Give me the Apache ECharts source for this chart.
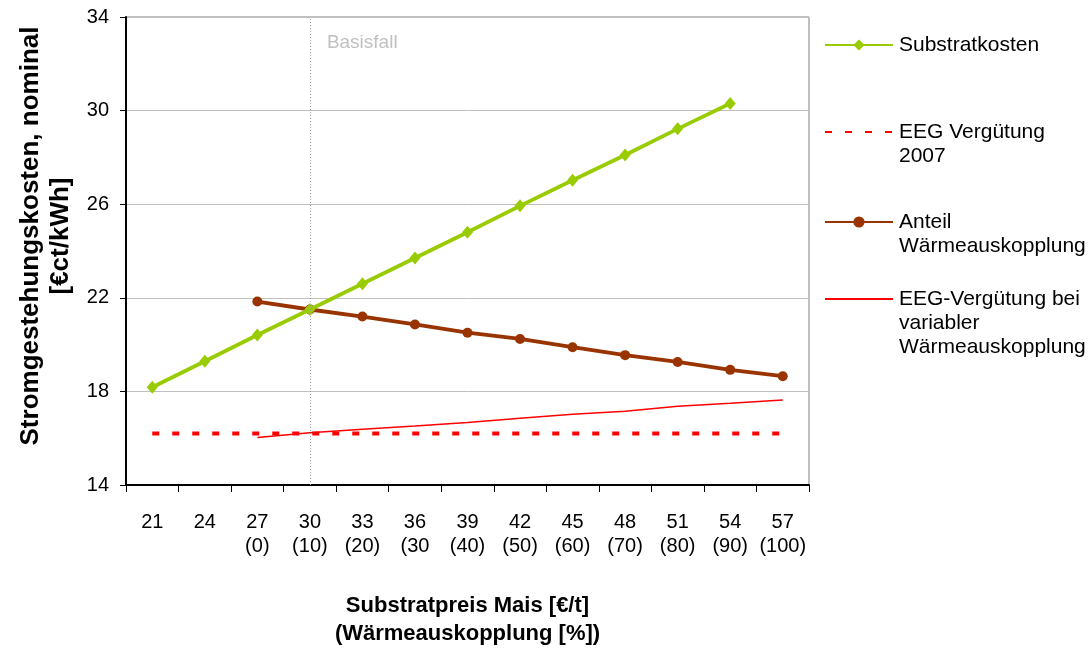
<!DOCTYPE html>
<html>
<head>
<meta charset="utf-8">
<script src="https://cdn.jsdelivr.net/npm/echarts@6/dist/echarts.min.js"></script>
<style>
  html, body { margin: 0; padding: 0; background: #fff; }
  #chart { width: 1088px; height: 653px; }
</style>
</head>
<body>
<div id="chart"></div>
<script>
// Substrate price of maize [€/t] and matching share of heat utilisation [%]
const substratePrices = ['21', '24', '27', '30', '33', '36', '39', '42', '45', '48', '51', '54', '57'];
const heatShareLabels = ['', '', '(0)', '(10)', '(20)', '(30', '(40)', '(50)', '(60)', '(70)', '(80)', '(90)', '(100)'];

// Electricity generation costs [€ct/kWh]
const substrateCosts   = [18.18, 19.29, 20.41, 21.50, 22.60, 23.70, 24.80, 25.93, 27.02, 28.10, 29.22, 30.30, null];
const eegTariff2007    = [16.2, 16.2, 16.2, 16.2, 16.2, 16.2, 16.2, 16.2, 16.2, 16.2, 16.2, 16.2, 16.2];
const heatShareCosts   = [null, null, 21.84, 21.50, 21.20, 20.86, 20.51, 20.24, 19.89, 19.55, 19.26, 18.92, 18.65];
const eegTariffVarHeat = [null, null, 16.03, 16.23, 16.38, 16.52, 16.67, 16.85, 17.02, 17.15, 17.37, 17.49, 17.63];

const yTicks = { min: 14, max: 34, step: 4 };
const baseCase = '30';

const seriesNames = [
  'Substratkosten',
  'EEG Vergütung 2007',
  'Anteil Wärmeauskopplung',
  'EEG-Vergütung bei variabler Wärmeauskopplung'
];
// legend text, wrapped; leading blank lines keep the icon level with the first line
const legendText = {
  'Substratkosten': 'Substratkosten',
  'EEG Vergütung 2007': '\nEEG Vergütung\n2007',
  'Anteil Wärmeauskopplung': '\nAnteil\nWärmeauskopplung',
  'EEG-Vergütung bei variabler Wärmeauskopplung': '\n\nEEG-Vergütung bei\nvariabler\nWärmeauskopplung'
};
const legendTops = [33, 96, 186, 239];
const legendHasMarker = [true, false, true, false];

const FONT = "'Liberation Sans', Arial, sans-serif";

const chart = echarts.init(document.getElementById('chart'), null, { renderer: 'canvas' });

const legends = seriesNames.map((name, i) => ({
  data: [name],
  left: 824,
  top: legendTops[i],
  orient: 'vertical',
  padding: 0,
  itemWidth: 68,
  itemHeight: 14,
  itemGap: 0,
  selectedMode: false,
  itemStyle: legendHasMarker[i] ? {} : { opacity: 0 },
  formatter: n => legendText[n],
  textStyle: { fontFamily: FONT, fontSize: 21, color: '#000', lineHeight: 24, padding: [0, 0, 0, 1] }
}));

chart.setOption({
  animation: false,
  backgroundColor: '#fff',
  textStyle: { fontFamily: FONT },
  grid: {
    left: 126, right: 279, top: 17, bottom: 166,
    show: true, borderColor: '#808080', borderWidth: 1, backgroundColor: '#fff'
  },
  legend: legends,
  xAxis: {
    type: 'category',
    data: substratePrices,
    boundaryGap: true,
    name: 'Substratpreis Mais [€/t]\n(Wärmeauskopplung [%])',
    nameLocation: 'middle',
    nameGap: 107,
    nameTextStyle: { fontFamily: FONT, fontSize: 22, fontWeight: 'bold', color: '#000', lineHeight: 28 },
    axisLine: { lineStyle: { color: '#000', width: 2 } },
    axisTick: { show: true, alignWithLabel: false, interval: 0, length: 7, lineStyle: { color: '#000', width: 1 } },
    axisLabel: {
      interval: 0,
      fontFamily: FONT, fontSize: 20, color: '#000', margin: 25, lineHeight: 24,
      verticalAlign: 'top',
      formatter: (v, i) => v + '\n' + heatShareLabels[i]
    },
    splitLine: { show: false }
  },
  yAxis: {
    type: 'value',
    min: yTicks.min, max: yTicks.max, interval: yTicks.step,
    name: 'Stromgestehungskosten, nominal\n[€ct/kWh]',
    nameLocation: 'middle',
    nameRotate: 90,
    nameGap: 50,
    nameTextStyle: {
      fontFamily: FONT, fontSize: 26, fontWeight: 'bold', color: '#000', lineHeight: 30,
      padding: [0, 0, 0, 30]
    },
    axisLine: { show: true, lineStyle: { color: '#000', width: 2 } },
    axisTick: { show: true, length: 6, lineStyle: { color: '#000', width: 1 } },
    axisLabel: { fontFamily: FONT, fontSize: 20, color: '#000', margin: 17 },
    splitLine: { show: true, lineStyle: { color: '#c0c0c0', width: 1 } }
  },
  series: [
    {
      name: seriesNames[0],
      type: 'line',
      data: substrateCosts,
      symbol: 'diamond',
      symbolSize: [11, 13],
      itemStyle: { color: '#99cc00' },
      lineStyle: { color: '#99cc00', width: 3.8 },
      z: 4,
      markLine: {
        silent: true,
        symbol: 'none',
        label: { show: false },
        lineStyle: { color: '#a0a0a0', type: [1, 2], width: 1 },
        data: [{ xAxis: baseCase }]
      }
    },
    {
      name: seriesNames[1],
      type: 'line',
      data: eegTariff2007,
      symbol: 'none',
      itemStyle: { color: '#ff0000' },
      lineStyle: { color: '#ff0000', width: 4, type: [7, 13], cap: 'butt' },
      z: 2
    },
    {
      name: seriesNames[2],
      type: 'line',
      data: heatShareCosts,
      symbol: 'circle',
      symbolSize: 10,
      itemStyle: { color: '#993300' },
      lineStyle: { color: '#993300', width: 3.8 },
      z: 3
    },
    {
      name: seriesNames[3],
      type: 'line',
      data: eegTariffVarHeat,
      symbol: 'none',
      itemStyle: { color: '#ff0000' },
      lineStyle: { color: '#ff0000', width: 1.5 },
      z: 2
    }
  ]
});

// Label of the base-case marker, placed beside the top of the dotted line
const basePos = chart.convertToPixel({ xAxisIndex: 0, yAxisIndex: 0 }, [baseCase, yTicks.max]);
chart.setOption({
  graphic: [{
    type: 'text',
    x: basePos[0] + 17,
    y: basePos[1] + 26,
    style: {
      text: 'Basisfall',
      fontFamily: FONT, fontSize: 19, fill: '#c0c0c0',
      verticalAlign: 'middle'
    }
  }]
});
</script>
</body>
</html>
